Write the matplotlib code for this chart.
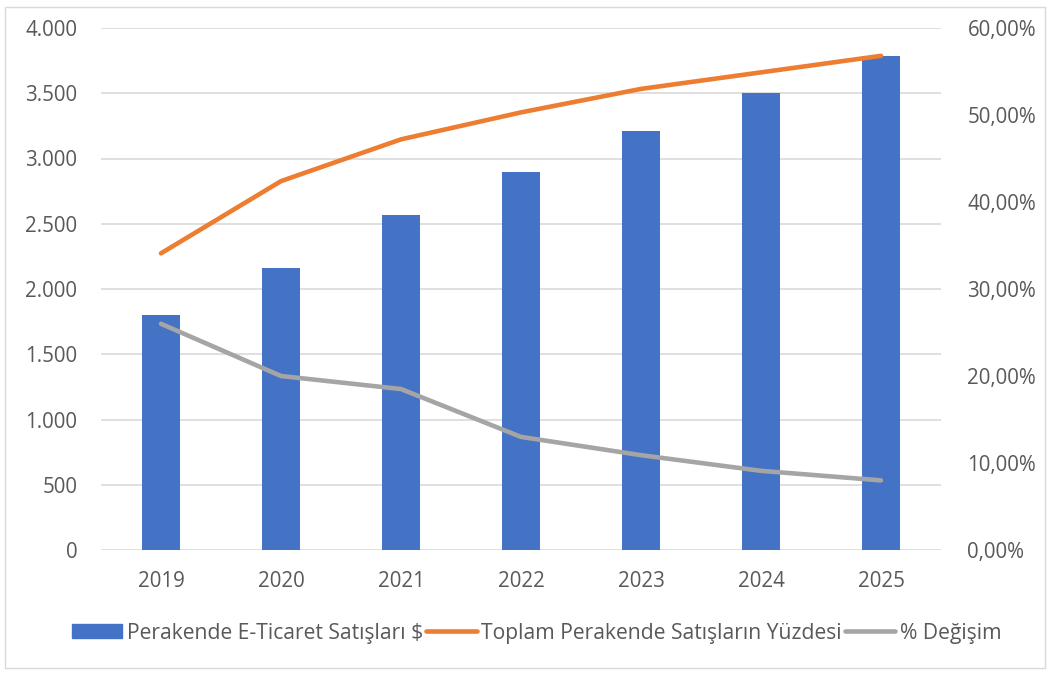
import matplotlib
matplotlib.use("Agg")
import matplotlib.pyplot as plt
from matplotlib.patches import Rectangle, Patch
from matplotlib.lines import Line2D
from matplotlib.ticker import FuncFormatter
import numpy as np

years = ["2019", "2020", "2021", "2022", "2023", "2024", "2025"]
ecommerce_sales = [1800, 2164, 2567, 2897, 3211, 3502, 3785]
share_of_retail = [34.1, 42.4, 47.2, 50.3, 53.0, 54.9, 56.8]
pct_change = [26.0, 20.0, 18.5, 13.0, 10.9, 9.1, 8.0]

plt.rcParams["font.family"] = ["Open Sans", "DejaVu Sans"]
text_col = "#595959"
grid_col = "#d9d9d9"

fig = plt.figure(figsize=(10.5, 6.75), dpi=100)
fig.patches.append(Rectangle((5 / 1050, 7 / 675), 1040 / 1050, 661 / 675,
                             transform=fig.transFigure, fill=False,
                             edgecolor=grid_col, linewidth=1))

ax = fig.add_axes([101 / 1050, 1 - 550 / 675, 840 / 1050, 522 / 675])
x = np.arange(len(years))
ax.bar(x, ecommerce_sales, width=0.32, color="#4472C4", zorder=2)
ax.set_xlim(-0.5, len(years) - 0.5)
ax.set_ylim(0, 4000)
ax.set_yticks(np.arange(0, 4001, 500))
ax.yaxis.set_major_formatter(FuncFormatter(lambda v, p: f"{int(v):,}".replace(",", ".")))
ax.set_xticks(x)
ax.set_xticklabels(years)
ax.grid(axis="y", color=grid_col, linewidth=1.2, zorder=0)
ax.set_axisbelow(True)
for s in ax.spines.values():
    s.set_visible(False)
ax.tick_params(axis="both", length=0, labelsize=14.8, labelcolor=text_col)
ax.tick_params(axis="y", pad=17)
ax.tick_params(axis="x", pad=15)

ax2 = ax.twinx()
ax2.plot(x, share_of_retail, color="#ED7D31", linewidth=3.3, solid_capstyle="round",
         solid_joinstyle="round", zorder=3)
ax2.plot(x, pct_change, color="#A5A5A5", linewidth=3.3, solid_capstyle="round",
         solid_joinstyle="round", zorder=3)
ax2.set_ylim(0, 60)
ax2.set_yticks(np.arange(0, 61, 10))
ax2.yaxis.set_major_formatter(FuncFormatter(lambda v, p: f"{v:.2f}%".replace(".", ",")))
for s in ax2.spines.values():
    s.set_visible(False)
ax2.tick_params(axis="y", length=0, labelsize=14.8, labelcolor=text_col, pad=19)

handles = [Patch(color="#4472C4"),
           Line2D([], [], color="#ED7D31", linewidth=3.3, solid_capstyle="round"),
           Line2D([], [], color="#A5A5A5", linewidth=3.3, solid_capstyle="round")]
labels = ["Perakende E-Ticaret Satışları $", "Toplam Perakende Satışların Yüzdesi", "% Değişim"]
fig.legend(handles, labels, loc="center", bbox_to_anchor=(0.511, 1 - 633 / 675), ncol=3,
           frameon=False, fontsize=15.2, labelcolor=text_col, handlelength=2.4,
           handleheight=0.6, handletextpad=0.2, columnspacing=0.15)

fig.savefig("out.png", dpi=100)
